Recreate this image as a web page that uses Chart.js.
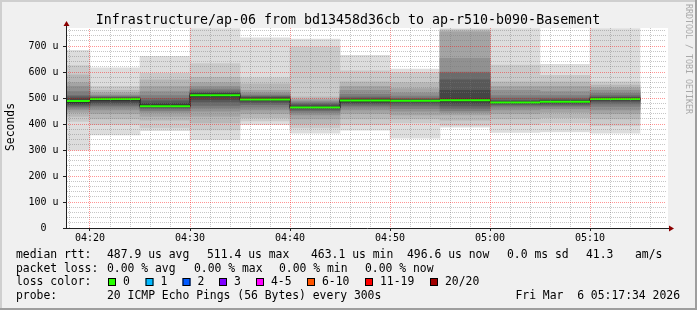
<!DOCTYPE html>
<html lang="en">
<head>
<meta charset="UTF-8">
<title>Infrastructure/ap-06 smoke</title>
<script src="https://cdn.jsdelivr.net/npm/chart.js@4"></script>
<style>
  body { margin: 0; background: #f0f0f0; }
  canvas { display: block; }
</style>
</head>
<body>
<canvas id="smoke" width="697" height="310"></canvas>
<script>
  // minutes after 04:00, one probe round every 5 minutes
  const intervalStart = [15, 20, 25, 30, 35, 40, 45, 50, 55, 60, 65, 70];
  const stepMinutes = 5;
  // median rtt per round (microseconds)
  const medianRtt = [489, 497, 469, 511, 495, 464, 491, 490, 492, 483, 486, 497];
  // the 20 sorted ping times of each round (microseconds)
  const pings = [
    [300, 410, 430, 445, 455, 462, 468, 473, 478, 482, 492, 498, 505, 510, 525, 545, 560, 590, 625, 684],
    [358, 398, 420, 440, 455, 465, 472, 478, 484, 490, 499, 500, 502, 505, 508, 512, 520, 530, 545, 617],
    [375, 385, 415, 430, 445, 452, 458, 462, 466, 468, 474, 480, 490, 498, 510, 525, 545, 570, 595, 661],
    [340, 378, 405, 430, 450, 462, 472, 485, 495, 506, 516, 518, 522, 528, 535, 545, 560, 580, 633, 768],
    [398, 412, 425, 440, 455, 465, 475, 482, 488, 492, 498, 502, 505, 508, 512, 520, 530, 555, 578, 732],
    [365, 385, 400, 420, 435, 445, 452, 457, 460, 462, 466, 470, 475, 480, 485, 490, 495, 505, 697, 727],
    [377, 398, 420, 440, 455, 465, 472, 478, 482, 486, 494, 496, 500, 505, 515, 530, 545, 563, 605, 665],
    [346, 405, 420, 435, 450, 460, 470, 478, 484, 488, 492, 494, 496, 500, 508, 520, 537, 560, 598, 612],
    [388, 396, 415, 435, 445, 452, 460, 470, 480, 487, 497, 530, 570, 596, 600, 653, 755, 760, 765, 768],
    [368, 398, 420, 440, 455, 465, 472, 476, 479, 481, 485, 488, 492, 500, 510, 530, 545, 563, 627, 768],
    [370, 405, 425, 445, 458, 466, 472, 477, 481, 484, 489, 491, 494, 500, 510, 525, 545, 563, 588, 630],
    [365, 395, 420, 440, 455, 468, 478, 485, 490, 494, 499, 501, 504, 510, 518, 530, 540, 550, 563, 768]
  ];

  const xTickValues = [20, 30, 40, 50, 60, 70];
  const xTickLabels = ['04:20', '04:30', '04:40', '04:50', '05:00', '05:10'];
  const yTickValues = [0, 100, 200, 300, 400, 500, 600, 700];
  const yTickLabels = ['0  ', '100 u', '200 u', '300 u', '400 u', '500 u', '600 u', '700 u'];

  const lossLabels = ['0', '1', '2', '3', '4-5', '6-10', '11-19', '20/20'];
  const lossColors = ['#26ff00', '#00b8ff', '#0059ff', '#7e00ff', '#ff00ff', '#ff5500', '#ff0000', '#a10000'];

  const mono = '"DejaVu Sans Mono", monospace';

  // smoke bands: outermost pair of pings first, lighter grey
  const datasets = [];
  const half = 10;
  for (let i = 0; i < half; i++) {
    const g = Math.floor(190 / half * (half - i - 1)) + 50;
    datasets.push({
      type: 'bar',
      data: intervalStart.map((s, k) => ({ x: s + stepMinutes / 2, y: [pings[k][i], pings[k][19 - i]] })),
      backgroundColor: `rgb(${g},${g},${g})`,
      borderWidth: 0,
      barThickness: 50,
      grouped: false,
      clip: 0,
      order: 30 - i
    });
  }

  // dark risers between rounds
  const riser = intervalStart.map((s, k) => ({ x: s, y: medianRtt[k] }));
  riser.push({ x: intervalStart[intervalStart.length - 1] + stepMinutes, y: medianRtt[medianRtt.length - 1] });
  datasets.push({
    type: 'line', data: riser, stepped: 'before', borderColor: '#202020', borderWidth: 1,
    pointRadius: 0, clip: 0, order: 2
  });

  // green median, one flat piece per round
  const medianPieces = [];
  intervalStart.forEach((s, k) => {
    medianPieces.push({ x: s, y: medianRtt[k] }, { x: s + stepMinutes, y: medianRtt[k] }, { x: s + stepMinutes, y: null });
  });
  datasets.push({
    type: 'line', data: medianPieces, borderColor: lossColors[0], borderWidth: 2,
    pointRadius: 0, spanGaps: false, clip: 0, order: 1
  });

  // dotted grid: 2x2 checker pattern so every other pixel of a line is lit
  function dots(color) {
    const c = document.createElement('canvas');
    c.width = 2; c.height = 2;
    const g = c.getContext('2d');
    g.fillStyle = color;
    g.fillRect(0, 0, 1, 1);
    g.fillRect(1, 1, 1, 1);
    return g.createPattern(c, 'repeat');
  }
  const majorDots = dots('rgba(255,0,0,0.42)');
  const minorDots = dots('rgba(120,120,120,0.42)');

  const gridColor = (c, majors) => {
    if (!c.tick) return 'rgba(0,0,0,0)';
    return majors.includes(c.tick.value) ? majorDots : minorDots;
  };
  const tickColor = (c, majors) => (c.tick && majors.includes(c.tick.value)) ? '#202020' : 'rgba(0,0,0,0)';

  const decor = {
    id: 'decor',
    beforeDraw(chart) {
      const { ctx, chartArea: a, width, height } = chart;
      ctx.save();
      ctx.fillStyle = '#f0f0f0';
      ctx.fillRect(0, 0, width, height);
      ctx.fillStyle = '#cfcfcf';
      ctx.fillRect(0, 0, width, 2);
      ctx.fillRect(0, 0, 2, height);
      ctx.fillStyle = '#9e9e9e';
      ctx.fillRect(0, height - 2, width, 2);
      ctx.fillRect(width - 2, 0, 2, height);
      ctx.fillStyle = '#ffffff';
      ctx.fillRect(a.left, a.top, a.right - a.left + 2, a.bottom - a.top);
      ctx.restore();
    },
    afterDraw(chart) {
      const { ctx, chartArea: a } = chart;
      ctx.save();
      // axes
      ctx.strokeStyle = '#202020';
      ctx.lineWidth = 1;
      ctx.beginPath();
      ctx.moveTo(a.left + 0.5, a.bottom + 1);
      ctx.lineTo(a.left + 0.5, a.top - 3);
      ctx.moveTo(a.left - 1, a.bottom + 0.5);
      ctx.lineTo(a.right + 4, a.bottom + 0.5);
      ctx.stroke();
      ctx.fillStyle = '#8b0000';
      ctx.beginPath();
      ctx.moveTo(a.left + 0.5, a.top - 7);
      ctx.lineTo(a.left - 2.5, a.top - 2);
      ctx.lineTo(a.left + 3.5, a.top - 2);
      ctx.fill();
      ctx.beginPath();
      ctx.moveTo(a.right + 8, a.bottom + 0.5);
      ctx.lineTo(a.right + 3, a.bottom - 2.5);
      ctx.lineTo(a.right + 3, a.bottom + 3.5);
      ctx.fill();

      // title
      ctx.fillStyle = '#000';
      ctx.font = '13.3px ' + mono;
      ctx.textAlign = 'center';
      ctx.textBaseline = 'alphabetic';
      ctx.fillText('Infrastructure/ap-06 from bd13458d36cb to ap-r510-b090-Basement', 348, 24);

      // vertical label
      ctx.font = '11.4px ' + mono;
      ctx.save();
      ctx.translate(11, 127);
      ctx.rotate(-Math.PI / 2);
      ctx.textBaseline = 'middle';
      ctx.fillText('Seconds', 0, 0);
      ctx.restore();

      // watermark
      ctx.save();
      ctx.fillStyle = '#a9a9a9';
      ctx.font = '8.3px ' + mono;
      ctx.translate(688, 59);
      ctx.rotate(Math.PI / 2);
      ctx.textBaseline = 'middle';
      ctx.fillText('RRDTOOL / TOBI OETIKER', 0, 0);
      ctx.restore();

      // legend
      ctx.textAlign = 'left';
      ctx.font = '11.4px ' + mono;
      ctx.fillStyle = '#000';
      const row = (y, parts) => parts.forEach(([x, t]) => ctx.fillText(t, x, y));
      row(258, [[16, 'median rtt:'], [107, '487.9 us avg'], [207, '511.4 us max'], [311, '463.1 us min'],
                [407, '496.6 us now'], [507, '0.0 ms sd'], [586, '41.3'], [635, 'am/s']]);
      row(271.5, [[16, 'packet loss:'], [107, '0.00 % avg'], [194, '0.00 % max'], [279, '0.00 % min'], [365, '0.00 % now']]);
      row(285, [[16, 'loss color:']]);
      const boxX = [108, 145.5, 182.5, 219, 256, 307, 365, 430];
      lossLabels.forEach((lab, i) => {
        ctx.fillStyle = lossColors[i];
        ctx.fillRect(boxX[i], 278, 8, 8);
        ctx.strokeStyle = '#000';
        ctx.strokeRect(boxX[i] + 0.5, 278.5, 7, 7);
        ctx.fillStyle = '#000';
        ctx.fillText(lab, boxX[i] + 15, 285);
      });
      row(298.5, [[16, 'probe:'], [107, '20 ICMP Echo Pings (56 Bytes) every 300s']]);
      ctx.textAlign = 'right';
      ctx.fillText('Fri Mar  6 05:17:34 2026', 680, 298.5);
      ctx.restore();
    }
  };

  new Chart(document.getElementById('smoke'), {
    type: 'bar',
    data: { datasets },
    options: {
      responsive: false,
      animation: false,
      devicePixelRatio: 1,
      layout: { padding: { left: 0, right: 31, top: 28, bottom: 0 } },
      plugins: { legend: { display: false }, tooltip: { enabled: false } },
      scales: {
        x: {
          type: 'linear',
          offset: false,
          min: 17.6,
          max: 77.6,
          afterBuildTicks: (s) => {
            const t = [];
            for (let v = 18; v <= 76; v += 2) t.push({ value: v });
            s.ticks = t;
          },
          afterFit: (s) => { s.height = 82; },
          grid: {
            z: 1,
            offset: false,
            tickLength: 3,
            color: (c) => gridColor(c, xTickValues),
            tickColor: (c) => tickColor(c, xTickValues)
          },
          border: { display: false },
          ticks: {
            autoSkip: false,
            maxRotation: 0,
            padding: 1,
            color: '#000',
            font: { family: mono, size: 10 },
            callback: (v) => {
              const i = xTickValues.indexOf(v);
              return i >= 0 ? xTickLabels[i] : '';
            }
          }
        },
        y: {
          type: 'linear',
          min: 0,
          max: 770,
          afterBuildTicks: (s) => {
            const t = [];
            for (let v = 0; v <= 760; v += 20) t.push({ value: v });
            s.ticks = t;
          },
          afterFit: (s) => { s.width = 66; },
          grid: {
            z: 1,
            tickLength: 3,
            color: (c) => gridColor(c, yTickValues),
            tickColor: (c) => tickColor(c, yTickValues)
          },
          border: { display: false },
          ticks: {
            autoSkip: false,
            padding: 4.5,
            color: '#000',
            font: { family: mono, size: 10 },
            callback: (v) => {
              const i = yTickValues.indexOf(v);
              return i >= 0 ? yTickLabels[i] : '';
            }
          }
        }
      }
    },
    plugins: [decor]
  });
</script>
</body>
</html>
